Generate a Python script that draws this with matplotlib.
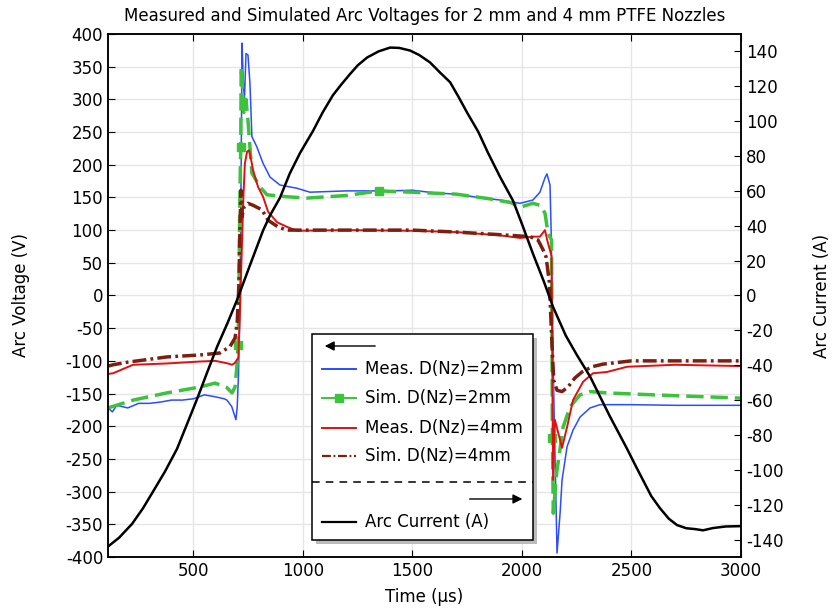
import matplotlib
matplotlib.use('Agg')
import matplotlib.pyplot as plt
from matplotlib.lines import Line2D
from matplotlib.patches import Rectangle

plt.rcParams['font.family'] = 'DejaVu Sans'
plt.rcParams['axes.unicode_minus'] = False

# Arc current (right axis)
t_cur = [110, 160, 220, 270, 315, 370, 425, 470, 516, 560, 608, 655, 699, 760, 818, 850, 895, 940, 987,
         1046, 1090, 1137, 1175, 1215, 1250, 1293, 1345, 1398, 1440, 1489, 1530, 1580, 1625, 1672, 1710,
         1749, 1800, 1845, 1900, 1959, 2000, 2050, 2100, 2142, 2200, 2250, 2311, 2400, 2480, 2520, 2553,
         2590, 2630, 2670, 2708, 2750, 2790, 2827, 2872, 2930, 3000]
i_cur = [-144, -139, -131, -122, -112.6, -101, -88, -74, -59.6, -45, -29.4, -16, -2.6, 18, 37.3, 46, 56, 70, 81.8,
         94.4, 105, 114.9, 121, 127, 132, 136.5, 140, 142.2, 142, 140.5, 138, 133.7, 128, 122.3, 114,
         105, 94, 81.8, 68, 54.4, 41, 24, 8, -6.6, -23, -34, -46.5, -69, -88, -98, -106,
         -115, -122, -128, -131.7, -133.5, -134, -134.7, -133.4, -132.5, -132.3]

# Meas. D(Nz)=2mm
t_m2 = [110, 130, 150, 200, 250, 300, 350, 400, 450, 500, 550, 600, 640, 653, 675, 694, 700, 706, 713, 718,
        722, 727, 733, 740, 749, 758, 767, 790, 818, 850, 895, 973, 1032, 1200, 1400, 1500, 1600, 1700, 1800, 1900,
        1991, 2050, 2082, 2105, 2114, 2128, 2133, 2145, 2160, 2174, 2183, 2206, 2233, 2265, 2311, 2356, 2500, 2700, 3000]
v_m2 = [-172, -178, -168, -172, -165, -165, -163, -160, -160, -158, -152, -155, -158, -160, -170, -190, -170, -119, 0, 200,
        386, 330, 300, 370, 368, 325, 243, 227, 202, 181, 169, 164, 158, 160, 160, 161, 157, 155, 150, 146,
        141, 146, 158, 180, 186, 169, 100, -150, -394, -333, -282, -231, -206, -186, -172, -167, -167, -168, -168]

# Sim. D(Nz)=2mm
t_s2 = [110, 225, 379, 530, 599, 653, 676, 690, 698, 704, 708, 712, 716, 718, 722, 730, 740, 749, 767, 804,
        836, 927, 1019, 1200, 1347, 1500, 1700, 1850, 1950, 1991, 2050, 2082, 2105, 2119, 2135, 2139, 2143, 2158,
        2188, 2220, 2265, 2311, 2388, 2600, 3000]
v_s2 = [-172, -160, -149, -140, -134, -141, -149, -140, -110, -76, 20, 150, 227, 350, 330, 280, 300, 268, 187, 166,
        154, 151, 149, 153, 160, 158, 155, 148, 142, 135, 141, 138, 126, 95, 85, -218, -333, -272,
        -201, -170, -152, -147, -149, -152, -157]
s2_marks = [9, 12, 24, 35]

# Meas. D(Nz)=4mm
t_m4 = [110, 133, 224, 379, 530, 600, 658, 676, 690, 705, 712, 720, 728, 735, 745, 754, 765, 772, 795, 818,
        841, 882, 927, 973, 1200, 1500, 1700, 1900, 1991, 2050, 2082, 2105, 2115, 2135, 2142, 2150, 2183, 2206,
        2233, 2279, 2324, 2388, 2480, 2700, 3000]
v_m4 = [-120, -119, -106, -104, -101, -100, -104, -106, -103, -95, -30, 60, 150, 202, 220, 222, 205, 192, 166, 151,
        128, 112, 105, 99, 100, 99, 97, 92, 88, 90, 90, 100, 85, 60, -282, -190, -233, -201,
        -160, -132, -119, -117, -109, -106, -108]

# Sim. D(Nz)=4mm
t_s4 = [110, 133, 200, 379, 530, 621, 667, 690, 700, 708, 712, 717, 722, 730, 749, 772, 813, 841, 886, 927,
        1200, 1500, 1700, 1900, 2037, 2073, 2096, 2110, 2125, 2135, 2145, 2160, 2183, 2210, 2242, 2274, 2320,
        2370, 2500, 3000]
v_s4 = [-108, -106, -102, -94, -91, -88, -78, -65, -40, 20, 100, 161, 120, 135, 141, 138, 131, 115, 105, 100,
        100, 100, 97, 93, 90, 85, 70, 59, 20, -60, -130, -145, -147, -140, -126, -117, -109,
        -105, -100, -100]

labels = ['Meas. D(Nz)=2mm', 'Sim. D(Nz)=2mm', 'Meas. D(Nz)=4mm', 'Sim. D(Nz)=4mm']
c_blue, c_green, c_red, c_brown = '#2b4cff', '#3cc23c', '#e01010', '#7b2010'
fs = 12

fig = plt.figure(figsize=(8.34, 6.10), dpi=100)
ax = fig.add_axes([0.1295, 0.0869, 0.759, 0.8574])
ax2 = ax.twinx()

ax.plot(t_m2, v_m2, color=c_blue, lw=1.1)
ax.plot(t_s2, v_s2, color=c_green, lw=2.5, dashes=(5, 2), marker='s', ms=6,
        markevery=s2_marks)
ax.plot(t_m4, v_m4, color=c_red, lw=1.4)
ax.plot(t_s4, v_s4, color=c_brown, lw=2.5, dashes=(4, 1.2, 0.8, 1.2))
ax2.plot(t_cur, i_cur, color='black', lw=1.8)

ax.set_xlim(110, 3000)
ax.set_ylim(-400, 400)
ax2.set_ylim(-150, 150)
ax.set_xticks(range(500, 3001, 500))
ax.set_yticks(range(-400, 401, 50))
ax2.set_yticks(range(-140, 141, 20))
ax.grid(True, color='#e6e6e6', lw=1)
ax.set_axisbelow(True)
ax.tick_params(direction='in', length=5, labelsize=fs, top=True)
ax2.tick_params(direction='in', length=5, labelsize=fs)
for a in (ax, ax2):
    for s in a.spines.values():
        s.set_linewidth(1.1)

ax.set_xlabel('Time (µs)', fontsize=fs, labelpad=6)
ax.set_ylabel('Arc Voltage (V)', fontsize=fs, labelpad=26)
ax2.set_ylabel('Arc Current (A)', fontsize=fs, labelpad=21)
ax.set_title('Measured and Simulated Arc Voltages for 2 mm and 4 mm PTFE Nozzles', fontsize=fs, pad=9)

# custom legend box
tr = ax2.transAxes
x0, x1, y0, y1 = 0.3223, 0.6714, 0.0325, 0.4264
ax2.add_patch(Rectangle((x0 + 0.0063, y0 - 0.0076), x1 - x0, y1 - y0, transform=tr,
                        facecolor='#bbbbbb', edgecolor='none', zorder=10, clip_on=False))
ax2.add_patch(Rectangle((x0, y0), x1 - x0, y1 - y0, transform=tr,
                        facecolor='white', edgecolor='black', lw=1.1, zorder=11, clip_on=False))
ax2.annotate('', xy=(0.338, 0.4034), xytext=(0.4265, 0.4034), xycoords=tr,
             arrowprops=dict(arrowstyle='-|>', color='black', lw=1, mutation_scale=14), zorder=12)
rows = [0.3595, 0.304, 0.2467, 0.193]
styles = [dict(color=c_blue, lw=1.4),
          dict(color=c_green, lw=1.4, marker='s', ms=6, markevery=[1]),
          dict(color=c_red, lw=1.4),
          dict(color=c_brown, lw=1.6, dashes=(4, 1.2, 0.8, 1.2))]
for y, lab, st in zip(rows, labels, styles):
    ax2.add_line(Line2D([0.338, 0.365, 0.392], [y, y, y], transform=tr, zorder=12, clip_on=False, **st))
    ax2.text(0.406, y, lab, transform=tr, fontsize=fs, va='center', zorder=12)
ax2.add_line(Line2D([x0, x1], [0.1434, 0.1434], transform=tr, color='black', lw=1.1,
                    dashes=(5, 4), zorder=12, clip_on=False))
ax2.annotate('', xy=(0.659, 0.1109), xytext=(0.567, 0.1109), xycoords=tr,
             arrowprops=dict(arrowstyle='-|>', color='black', lw=1, mutation_scale=14), zorder=12)
ax2.add_line(Line2D([0.338, 0.392], [0.0669, 0.0669], transform=tr, color='black', lw=1.6,
                    zorder=12, clip_on=False))
ax2.text(0.406, 0.0669, 'Arc Current (A)', transform=tr, fontsize=fs, va='center', zorder=12)

fig.savefig('out.png', dpi=100)
